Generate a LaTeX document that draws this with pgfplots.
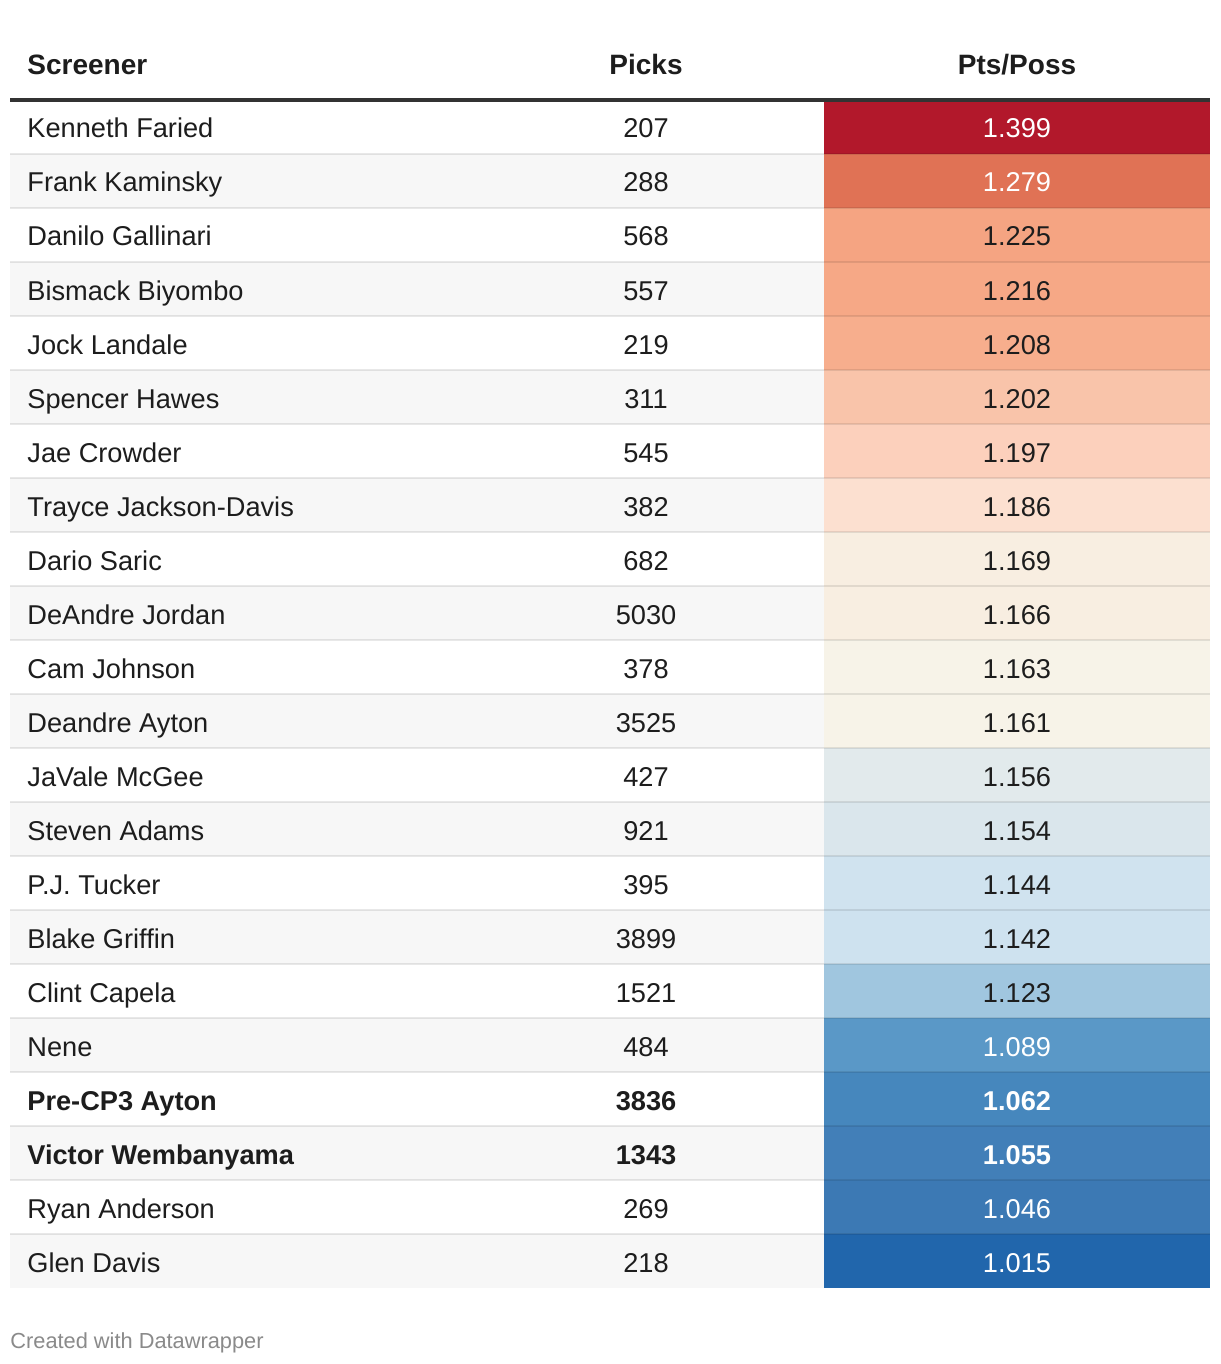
\documentclass[border=0pt]{standalone}
\usepackage{pgfplots}
\usepackage{pgfplotstable}
\pgfplotsset{compat=1.18}
\usepackage{fontspec}
\setmainfont{Liberation Sans}
\newcommand\bodyfont{\fontsize{13.6}{16}\selectfont}
\newcommand\headfont{\fontsize{14}{16}\selectfont\bfseries}
\definecolor{txt}{HTML}{1D1D1D}
\definecolor{stripe}{HTML}{F7F7F7}
\definecolor{rule}{HTML}{333333}
\definecolor{foot}{HTML}{8A8A8A}
\definecolor{c0}{HTML}{B2182B}
\definecolor{c1}{HTML}{E07255}
\definecolor{c2}{HTML}{F5A482}
\definecolor{c3}{HTML}{F6A886}
\definecolor{c4}{HTML}{F7AE8D}
\definecolor{c5}{HTML}{F9C4AA}
\definecolor{c6}{HTML}{FCD0BC}
\definecolor{c7}{HTML}{FCE0D0}
\definecolor{c8}{HTML}{F8EEE1}
\definecolor{c9}{HTML}{F8EEE1}
\definecolor{c10}{HTML}{F7F3E8}
\definecolor{c11}{HTML}{F7F3E8}
\definecolor{c12}{HTML}{E2EAEC}
\definecolor{c13}{HTML}{DAE6EC}
\definecolor{c14}{HTML}{D0E3EF}
\definecolor{c15}{HTML}{CEE2EF}
\definecolor{c16}{HTML}{A0C6DF}
\definecolor{c17}{HTML}{5A98C7}
\definecolor{c18}{HTML}{4687BD}
\definecolor{c19}{HTML}{427FB8}
\definecolor{c20}{HTML}{3C79B4}
\definecolor{c21}{HTML}{2166AC}

\pgfplotstableread[col sep=comma]{
row,name,picks
0,Kenneth Faried,207
1,Frank Kaminsky,288
2,Danilo Gallinari,568
3,Bismack Biyombo,557
4,Jock Landale,219
5,Spencer Hawes,311
6,Jae Crowder,545
7,Trayce Jackson-Davis,382
8,Dario Saric,682
9,DeAndre Jordan,5030
10,Cam Johnson,378
11,Deandre Ayton,3525
12,JaVale McGee,427
13,Steven Adams,921
14,P.J. Tucker,395
15,Blake Griffin,3899
16,Clint Capela,1521
17,Nene,484
20,Ryan Anderson,269
21,Glen Davis,218
}\names
\pgfplotstableread[col sep=comma]{
row,name,picks,pts
18,Pre-CP3 Ayton,3836,1.062
19,Victor Wembanyama,1343,1.055
}\boldnames
\pgfplotstableread[col sep=comma]{
row,pts
2,1.225
3,1.216
4,1.208
5,1.202
6,1.197
7,1.186
8,1.169
9,1.166
10,1.163
11,1.161
12,1.156
13,1.154
14,1.144
15,1.142
16,1.123
}\darkpts
\pgfplotstableread[col sep=comma]{
row,pts
0,1.399
1,1.279
17,1.089
20,1.046
21,1.015
}\whitepts

\begin{document}
\begin{tikzpicture}
\begin{axis}[
  width=610pt, height=682pt, scale only axis,
  xmin=0, xmax=1220, ymin=0, ymax=1364, y dir=reverse,
  hide axis, clip=false,
]
% background
\addplot[fill=white, draw=none] coordinates {(0,0) (1220,0) (1220,1364) (0,1364)} --cycle;
% stripes
\addplot[fill=stripe, draw=none] coordinates {(10,154) (824,154) (824,208) (10,208)} --cycle;
\addplot[fill=stripe, draw=none] coordinates {(10,262) (824,262) (824,316) (10,316)} --cycle;
\addplot[fill=stripe, draw=none] coordinates {(10,370) (824,370) (824,424) (10,424)} --cycle;
\addplot[fill=stripe, draw=none] coordinates {(10,478) (824,478) (824,532) (10,532)} --cycle;
\addplot[fill=stripe, draw=none] coordinates {(10,586) (824,586) (824,640) (10,640)} --cycle;
\addplot[fill=stripe, draw=none] coordinates {(10,694) (824,694) (824,748) (10,748)} --cycle;
\addplot[fill=stripe, draw=none] coordinates {(10,802) (824,802) (824,856) (10,856)} --cycle;
\addplot[fill=stripe, draw=none] coordinates {(10,910) (824,910) (824,964) (10,964)} --cycle;
\addplot[fill=stripe, draw=none] coordinates {(10,1018) (824,1018) (824,1072) (10,1072)} --cycle;
\addplot[fill=stripe, draw=none] coordinates {(10,1126) (824,1126) (824,1180) (10,1180)} --cycle;
\addplot[fill=stripe, draw=none] coordinates {(10,1234) (824,1234) (824,1288) (10,1288)} --cycle;
% heat cells
\addplot[fill=c0, draw=none] coordinates {(824,100) (1210,100) (1210,154) (824,154)} --cycle;
\addplot[fill=c1, draw=none] coordinates {(824,154) (1210,154) (1210,208) (824,208)} --cycle;
\addplot[fill=c2, draw=none] coordinates {(824,208) (1210,208) (1210,262) (824,262)} --cycle;
\addplot[fill=c3, draw=none] coordinates {(824,262) (1210,262) (1210,316) (824,316)} --cycle;
\addplot[fill=c4, draw=none] coordinates {(824,316) (1210,316) (1210,370) (824,370)} --cycle;
\addplot[fill=c5, draw=none] coordinates {(824,370) (1210,370) (1210,424) (824,424)} --cycle;
\addplot[fill=c6, draw=none] coordinates {(824,424) (1210,424) (1210,478) (824,478)} --cycle;
\addplot[fill=c7, draw=none] coordinates {(824,478) (1210,478) (1210,532) (824,532)} --cycle;
\addplot[fill=c8, draw=none] coordinates {(824,532) (1210,532) (1210,586) (824,586)} --cycle;
\addplot[fill=c9, draw=none] coordinates {(824,586) (1210,586) (1210,640) (824,640)} --cycle;
\addplot[fill=c10, draw=none] coordinates {(824,640) (1210,640) (1210,694) (824,694)} --cycle;
\addplot[fill=c11, draw=none] coordinates {(824,694) (1210,694) (1210,748) (824,748)} --cycle;
\addplot[fill=c12, draw=none] coordinates {(824,748) (1210,748) (1210,802) (824,802)} --cycle;
\addplot[fill=c13, draw=none] coordinates {(824,802) (1210,802) (1210,856) (824,856)} --cycle;
\addplot[fill=c14, draw=none] coordinates {(824,856) (1210,856) (1210,910) (824,910)} --cycle;
\addplot[fill=c15, draw=none] coordinates {(824,910) (1210,910) (1210,964) (824,964)} --cycle;
\addplot[fill=c16, draw=none] coordinates {(824,964) (1210,964) (1210,1018) (824,1018)} --cycle;
\addplot[fill=c17, draw=none] coordinates {(824,1018) (1210,1018) (1210,1072) (824,1072)} --cycle;
\addplot[fill=c18, draw=none] coordinates {(824,1072) (1210,1072) (1210,1126) (824,1126)} --cycle;
\addplot[fill=c19, draw=none] coordinates {(824,1126) (1210,1126) (1210,1180) (824,1180)} --cycle;
\addplot[fill=c20, draw=none] coordinates {(824,1180) (1210,1180) (1210,1234) (824,1234)} --cycle;
\addplot[fill=c21, draw=none] coordinates {(824,1234) (1210,1234) (1210,1288) (824,1288)} --cycle;
% row separators
\addplot[draw=black, draw opacity=0.09, line width=1pt] coordinates {(10,154) (1210,154)};
\addplot[draw=black, draw opacity=0.09, line width=1pt] coordinates {(10,208) (1210,208)};
\addplot[draw=black, draw opacity=0.09, line width=1pt] coordinates {(10,262) (1210,262)};
\addplot[draw=black, draw opacity=0.09, line width=1pt] coordinates {(10,316) (1210,316)};
\addplot[draw=black, draw opacity=0.09, line width=1pt] coordinates {(10,370) (1210,370)};
\addplot[draw=black, draw opacity=0.09, line width=1pt] coordinates {(10,424) (1210,424)};
\addplot[draw=black, draw opacity=0.09, line width=1pt] coordinates {(10,478) (1210,478)};
\addplot[draw=black, draw opacity=0.09, line width=1pt] coordinates {(10,532) (1210,532)};
\addplot[draw=black, draw opacity=0.09, line width=1pt] coordinates {(10,586) (1210,586)};
\addplot[draw=black, draw opacity=0.09, line width=1pt] coordinates {(10,640) (1210,640)};
\addplot[draw=black, draw opacity=0.09, line width=1pt] coordinates {(10,694) (1210,694)};
\addplot[draw=black, draw opacity=0.09, line width=1pt] coordinates {(10,748) (1210,748)};
\addplot[draw=black, draw opacity=0.09, line width=1pt] coordinates {(10,802) (1210,802)};
\addplot[draw=black, draw opacity=0.09, line width=1pt] coordinates {(10,856) (1210,856)};
\addplot[draw=black, draw opacity=0.09, line width=1pt] coordinates {(10,910) (1210,910)};
\addplot[draw=black, draw opacity=0.09, line width=1pt] coordinates {(10,964) (1210,964)};
\addplot[draw=black, draw opacity=0.09, line width=1pt] coordinates {(10,1018) (1210,1018)};
\addplot[draw=black, draw opacity=0.09, line width=1pt] coordinates {(10,1072) (1210,1072)};
\addplot[draw=black, draw opacity=0.09, line width=1pt] coordinates {(10,1126) (1210,1126)};
\addplot[draw=black, draw opacity=0.09, line width=1pt] coordinates {(10,1180) (1210,1180)};
\addplot[draw=black, draw opacity=0.09, line width=1pt] coordinates {(10,1234) (1210,1234)};
% header rule
\addplot[draw=rule, line width=2pt] coordinates {(10,100) (1210,100)};
% header text
\node[anchor=base west, inner sep=0pt, font=\headfont, text=txt] at (axis cs:27,75) {Screener};
\node[anchor=base, inner sep=0pt, font=\headfont, text=txt] at (axis cs:646,75) {Picks};
\node[anchor=base, inner sep=0pt, font=\headfont, text=txt] at (axis cs:1017,75) {Pts/Poss};
% names
\addplot[draw=none, mark=none, nodes near coords, point meta=explicit symbolic,
  every node near coord/.append style={anchor=base west, inner sep=0pt, font=\bodyfont, text=txt}]
  table[x expr=27, y expr=138+54*\thisrow{row}, meta=name] {\names};
\addplot[draw=none, mark=none, nodes near coords, point meta=explicit symbolic,
  every node near coord/.append style={anchor=base west, inner sep=0pt, font=\bodyfont\bfseries, text=txt}]
  table[x expr=27, y expr=138+54*\thisrow{row}, meta=name] {\boldnames};
% picks
\addplot[draw=none, mark=none, nodes near coords, point meta=explicit symbolic,
  every node near coord/.append style={anchor=base, inner sep=0pt, font=\bodyfont, text=txt}]
  table[x expr=646, y expr=138+54*\thisrow{row}, meta=picks] {\names};
\addplot[draw=none, mark=none, nodes near coords, point meta=explicit symbolic,
  every node near coord/.append style={anchor=base, inner sep=0pt, font=\bodyfont\bfseries, text=txt}]
  table[x expr=646, y expr=138+54*\thisrow{row}, meta=picks] {\boldnames};
% pts/poss
\addplot[draw=none, mark=none, nodes near coords, point meta=explicit symbolic,
  every node near coord/.append style={anchor=base, inner sep=0pt, font=\bodyfont, text=txt}]
  table[x expr=1017, y expr=138+54*\thisrow{row}, meta=pts] {\darkpts};
\addplot[draw=none, mark=none, nodes near coords, point meta=explicit symbolic,
  every node near coord/.append style={anchor=base, inner sep=0pt, font=\bodyfont, text=white}]
  table[x expr=1017, y expr=138+54*\thisrow{row}, meta=pts] {\whitepts};
\addplot[draw=none, mark=none, nodes near coords, point meta=explicit symbolic,
  every node near coord/.append style={anchor=base, inner sep=0pt, font=\bodyfont\bfseries, text=white}]
  table[x expr=1017, y expr=138+54*\thisrow{row}, meta=pts] {\boldnames};
% footer
\node[anchor=base west, inner sep=0pt, font=\fontsize{10.9}{13}\selectfont, text=foot] at (axis cs:10,1348) {Created with Datawrapper};
\end{axis}
\end{tikzpicture}
\end{document}
